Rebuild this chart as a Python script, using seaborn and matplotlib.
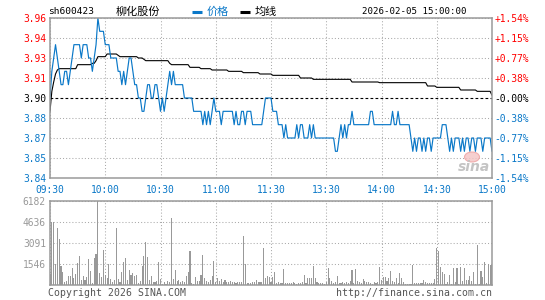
import numpy as np
import pandas as pd
import matplotlib
matplotlib.use("Agg")
import matplotlib.pyplot as plt
from matplotlib.lines import Line2D
from matplotlib.patches import Ellipse
import seaborn as sns

# ---------------- data ----------------
stock_code = "sh600423"
stock_name = "柳化股份"
timestamp = "2026-02-05 15:00:00"
legend_labels = ["价格", "均线"]
prev_close = 3.90

time_ticks = [0, 30, 60, 90, 120, 150, 180, 210, 240]
time_labels = ["09:30", "10:00", "10:30", "11:00", "11:30", "13:30", "14:00", "14:30", "15:00"]

price_ticks = [3.84, 3.855, 3.87, 3.885, 3.90, 3.915, 3.93, 3.945, 3.96]
price_tick_labels = ["3.84", "3.85", "3.87", "3.88", "3.90", "3.91", "3.93", "3.94", "3.96"]
pct_tick_labels = ["-1.54%", "-1.15%", "-0.77%", "-0.38%", "-0.00%", "+0.38%", "+0.77%", "+1.15%", "+1.54%"]

vol_ticks = [1546, 3091, 4636, 6182]
vol_tick_labels = ["1546", "3091", "4636", "6182"]

price = [
    3.90, 3.92, 3.93, 3.94, 3.93, 3.92, 3.91, 3.91, 3.92, 3.92,
    3.91, 3.92, 3.93, 3.94, 3.94, 3.94, 3.94, 3.93, 3.94, 3.94,
    3.94, 3.93, 3.93, 3.92, 3.93, 3.94, 3.96, 3.95, 3.95, 3.95,
    3.94, 3.94, 3.94, 3.93, 3.93, 3.93, 3.93, 3.92, 3.92, 3.91,
    3.92, 3.91, 3.92, 3.93, 3.93, 3.92, 3.91, 3.91, 3.90, 3.90,
    3.89, 3.89, 3.90, 3.91, 3.91, 3.90, 3.90, 3.91, 3.91, 3.90,
    3.89, 3.90, 3.89, 3.90, 3.91, 3.92, 3.91, 3.92, 3.91, 3.91,
    3.91, 3.91, 3.91, 3.90, 3.90, 3.90, 3.90, 3.90, 3.89, 3.89,
    3.89, 3.89, 3.89, 3.88, 3.89, 3.88, 3.89, 3.88, 3.89, 3.90,
    3.89, 3.89, 3.89, 3.88, 3.89, 3.89, 3.89, 3.89, 3.89, 3.89,
    3.88, 3.89, 3.88, 3.88, 3.89, 3.89, 3.88, 3.89, 3.89, 3.89,
    3.88, 3.88, 3.88, 3.88, 3.88, 3.88, 3.89, 3.90, 3.90, 3.90,
    3.90, 3.89, 3.89, 3.89, 3.88, 3.88, 3.88, 3.87, 3.88, 3.87,
    3.87, 3.87, 3.87, 3.87, 3.88, 3.87, 3.88, 3.88, 3.87, 3.87,
    3.87, 3.88, 3.87, 3.88, 3.87, 3.87, 3.87, 3.87, 3.87, 3.87,
    3.87, 3.87, 3.87, 3.87, 3.87, 3.86, 3.86, 3.87, 3.88, 3.87,
    3.88, 3.87, 3.88, 3.88, 3.89, 3.88, 3.88, 3.88, 3.88, 3.88,
    3.88, 3.88, 3.88, 3.88, 3.89, 3.89, 3.88, 3.88, 3.88, 3.88,
    3.88, 3.88, 3.88, 3.88, 3.88, 3.88, 3.89, 3.88, 3.88, 3.89,
    3.88, 3.88, 3.88, 3.88, 3.88, 3.88, 3.87, 3.86, 3.87, 3.86,
    3.87, 3.87, 3.86, 3.87, 3.86, 3.87, 3.87, 3.86, 3.87, 3.87,
    3.87, 3.87, 3.87, 3.88, 3.88, 3.88, 3.87, 3.86, 3.87, 3.86,
    3.87, 3.87, 3.87, 3.86, 3.87, 3.86, 3.87, 3.87, 3.86, 3.87,
    3.87, 3.86, 3.87, 3.87, 3.87, 3.86, 3.87, 3.87, 3.87, 3.87,
    3.86,
]

avg_price = [
    3.890, 3.905, 3.912, 3.918, 3.921, 3.922, 3.922, 3.922, 3.922, 3.922,
    3.922, 3.922, 3.922, 3.922, 3.922, 3.925, 3.925, 3.925, 3.925, 3.925,
    3.925, 3.925, 3.925, 3.926, 3.926, 3.928, 3.931, 3.931, 3.931, 3.931,
    3.931, 3.933, 3.933, 3.933, 3.933, 3.933, 3.933, 3.932, 3.931, 3.931,
    3.931, 3.931, 3.931, 3.931, 3.931, 3.931, 3.931, 3.931, 3.930, 3.930,
    3.930, 3.929, 3.928, 3.928, 3.928, 3.928, 3.928, 3.928, 3.928, 3.928,
    3.928, 3.928, 3.928, 3.928, 3.928, 3.926, 3.925, 3.925, 3.925, 3.925,
    3.925, 3.925, 3.925, 3.925, 3.925, 3.925, 3.923, 3.923, 3.923, 3.923,
    3.923, 3.923, 3.922, 3.922, 3.922, 3.922, 3.922, 3.922, 3.921, 3.921,
    3.921, 3.921, 3.921, 3.921, 3.921, 3.921, 3.921, 3.920, 3.920, 3.920,
    3.920, 3.920, 3.920, 3.920, 3.920, 3.919, 3.919, 3.919, 3.919, 3.919,
    3.919, 3.919, 3.919, 3.919, 3.918, 3.918, 3.918, 3.918, 3.918, 3.918,
    3.918, 3.917, 3.917, 3.917, 3.917, 3.917, 3.917, 3.917, 3.917, 3.917,
    3.917, 3.917, 3.917, 3.917, 3.917, 3.917, 3.915, 3.915, 3.915, 3.915,
    3.915, 3.915, 3.915, 3.914, 3.914, 3.914, 3.914, 3.914, 3.914, 3.914,
    3.914, 3.914, 3.914, 3.914, 3.914, 3.914, 3.914, 3.914, 3.914, 3.914,
    3.914, 3.914, 3.914, 3.914, 3.912, 3.912, 3.912, 3.912, 3.912, 3.912,
    3.912, 3.912, 3.912, 3.912, 3.912, 3.912, 3.912, 3.912, 3.912, 3.9115,
    3.9115, 3.9115, 3.9115, 3.9115, 3.9115, 3.9115, 3.9115, 3.9115, 3.9115, 3.9115,
    3.9115, 3.9115, 3.9115, 3.9115, 3.9115, 3.9115, 3.9115, 3.9115, 3.9115, 3.9115,
    3.9115, 3.9115, 3.9115, 3.9115, 3.9115, 3.909, 3.909, 3.909, 3.909, 3.909,
    3.908, 3.908, 3.908, 3.908, 3.908, 3.908, 3.908, 3.908, 3.908, 3.908,
    3.908, 3.908, 3.908, 3.906, 3.906, 3.906, 3.906, 3.906, 3.906, 3.906,
    3.906, 3.906, 3.905, 3.905, 3.905, 3.905, 3.905, 3.905, 3.905, 3.905,
    3.902,
]

volume = [
    810, 4600, 4600, 1520, 4160, 3380, 1420, 930, 245, 290,
    660, 660, 1225, 540, 810, 1590, 2130, 340, 660, 340,
    560, 1910, 1030, 120, 1960, 2280, 6182, 900, 600, 2550,
    700, 480, 1520, 430, 250, 350, 4200, 420, 250, 930,
    1670, 1960, 370, 1080, 740, 860, 690, 740, 150, 290,
    1420, 2130, 3140, 2060, 340, 660, 200, 200, 290, 1670,
    420, 80, 200, 100, 300, 250, 4950, 440, 1100, 300,
    370, 200, 290, 245, 690, 930, 2500, 120, 50, 590,
    290, 290, 735, 2200, 540, 290, 200, 340, 660, 1760,
    200, 540, 290, 440, 245, 370, 200, 200, 290, 200,
    200, 180, 200, 200, 200, 3630, 1520, 120, 120, 120,
    200, 200, 370, 200, 200, 245, 2740, 540, 690, 620,
    200, 610, 980, 150, 200, 150, 150, 1180, 150, 120,
    150, 120, 200, 150, 100, 150, 120, 200, 735, 150,
    490, 490, 540, 1420, 490, 200, 150, 120, 150, 100,
    200, 1270, 540, 290, 150, 245, 690, 120, 150, 200,
    150, 200, 150, 290, 1100, 120, 1180, 290, 200, 150,
    440, 290, 245, 200, 120, 100, 200, 120, 200, 1350,
    370, 610, 610, 290, 540, 1030, 290, 200, 540, 120,
    860, 490, 200, 50, 50, 50, 50, 1470, 120, 120,
    120, 120, 120, 370, 200, 120, 120, 120, 120, 440,
    2750, 2500, 1300, 980, 830, 50, 200, 735, 100, 1270,
    200, 1270, 100, 1350, 290, 1270, 340, 370, 690, 290,
    980, 100, 2940, 100, 1030, 610, 1670, 120, 1520, 1460,
    1500,
]

# ---------------- style ----------------
BLUE = "#0a78c8"
RED = "#ff0000"
FRAME = "#9a9a9a"
GRID = "#aaaaaa"
VOLC = "#999999"
MONO = "DejaVu Sans Mono"
CJK = ["Noto Sans CJK SC", "DejaVu Sans"]

sns.set_theme(style="white")
plt.rcParams["font.family"] = [MONO, "DejaVu Sans"]
plt.rcParams["lines.scale_dashes"] = False

W, H = 545, 300
fig = plt.figure(figsize=(W / 100, H / 100), dpi=100)
fig.patch.set_facecolor("white")


def rect(l, t, r, b):
    return [l / W, 1 - b / H, (r - l) / W, (b - t) / H]


df = pd.DataFrame({
    "minute": np.arange(len(price)),
    "price": price,
    "avg": avg_price,
    "volume": volume,
})

dotted = (0, (0.75, 1.5))
FS = 6.9

# ---------------- price panel ----------------
ax = fig.add_axes(rect(50, 18, 492, 178))
sns.lineplot(data=df, x="minute", y="avg", ax=ax, color="black", lw=0.8, zorder=3)
sns.lineplot(data=df, x="minute", y="price", ax=ax, color=BLUE, lw=0.85, zorder=4)
ax.set_xlim(0, 240)
ax.set_ylim(price_ticks[0], price_ticks[-1])
ax.set_xticks(time_ticks)
ax.set_xticklabels(time_labels, color=BLUE, fontsize=FS)
ax.set_yticks(price_ticks)
ax.set_yticklabels(price_tick_labels, fontsize=FS)
ax.set_xlabel("")
ax.set_ylabel("")
ax.tick_params(axis="both", length=0)
ax.tick_params(axis="x", pad=5)
ax.tick_params(axis="y", pad=3)
for lbl, v in zip(ax.get_yticklabels(), price_ticks):
    lbl.set_color(RED if v > prev_close + 1e-9 else ("black" if abs(v - prev_close) < 1e-9 else BLUE))
ax.set_axisbelow(True)
ax.grid(True, color=GRID, linestyle=dotted, lw=0.75)
for gl, v in zip(ax.yaxis.get_gridlines(), price_ticks):
    if abs(v - prev_close) < 1e-9:
        gl.set_color("black")
        gl.set_linestyle((0, (2.0, 1.6)))
        gl.set_linewidth(0.8)
        gl.set_zorder(2)
for s in ax.spines.values():
    s.set_color(FRAME)
    s.set_linewidth(1.1)
    s.set_zorder(5)

ax2 = ax.twinx()
ax2.set_ylim(ax.get_ylim())
ax2.set_yticks(price_ticks)
ax2.set_yticklabels(pct_tick_labels, fontsize=FS)
ax2.tick_params(axis="y", length=0, pad=1.5)
for lbl, v in zip(ax2.get_yticklabels(), price_ticks):
    lbl.set_color(RED if v > prev_close + 1e-9 else ("black" if abs(v - prev_close) < 1e-9 else BLUE))
ax2.grid(False)
for s in ax2.spines.values():
    s.set_visible(False)

# ---------------- volume panel ----------------
axv = fig.add_axes(rect(50, 201, 492, 285))
sns.barplot(data=df, x="minute", y="volume", ax=axv, native_scale=True,
            color=VOLC, saturation=1, width=0.6, linewidth=0, errorbar=None)
for p in axv.patches:
    p.set_antialiased(False)
axv.set_xlim(0, 240)
axv.set_ylim(0, vol_ticks[-1])
axv.set_xticks(time_ticks)
axv.set_xticklabels([])
axv.set_yticks(vol_ticks)
axv.set_yticklabels(vol_tick_labels, fontsize=FS, color=VOLC)
axv.set_xlabel("")
axv.set_ylabel("")
axv.tick_params(axis="both", length=0)
axv.tick_params(axis="y", pad=3)
axv.set_axisbelow(True)
axv.grid(True, color=GRID, linestyle=dotted, lw=0.75)
for s in axv.spines.values():
    s.set_color(FRAME)
    s.set_linewidth(1.1)

# ---------------- header / footer ----------------
def fy(py):
    return 1 - py / H

fig.text(48 / W, fy(11.5), stock_code, fontsize=6.8, color="black", va="center", ha="left")
fig.text(116 / W, fy(11.5), stock_name, fontsize=8, color="black", va="center", ha="left", family=CJK)
fig.add_artist(Line2D([191.5 / W, 201.5 / W], [fy(11.8)] * 2, color=BLUE, lw=2.2, solid_capstyle="butt"))
fig.text(206.5 / W, fy(11.5), legend_labels[0], fontsize=8, color=BLUE, va="center", ha="left", family=CJK)
fig.add_artist(Line2D([240 / W, 250 / W], [fy(11.8)] * 2, color="black", lw=2.2, solid_capstyle="butt"))
fig.text(254.5 / W, fy(11.5), legend_labels[1], fontsize=8, color="black", va="center", ha="left", family=CJK)
fig.text(467 / W, fy(11.5), timestamp, fontsize=6.6, color="black", va="center", ha="right")

fig.text(48 / W, fy(293), "Copyright 2026 SINA.COM", fontsize=7.1, color="#555555", va="center", ha="left")
fig.text(492 / W, fy(293), "http://finance.sina.com.cn", fontsize=7.1, color="#555555", va="center", ha="right")

# watermark
fig.add_artist(Ellipse((472 / W, fy(157)), 15 / W, 10 / H, facecolor="#f4c4c4", edgecolor="#eea0a0", lw=0.8, alpha=0.8))
fig.text(474 / W, fy(167), "sina", fontsize=10, color="#c4c4c4", fontweight="bold", style="italic",
         va="center", ha="center", family="DejaVu Sans")

fig.savefig("out.png", dpi=100, facecolor="white")
